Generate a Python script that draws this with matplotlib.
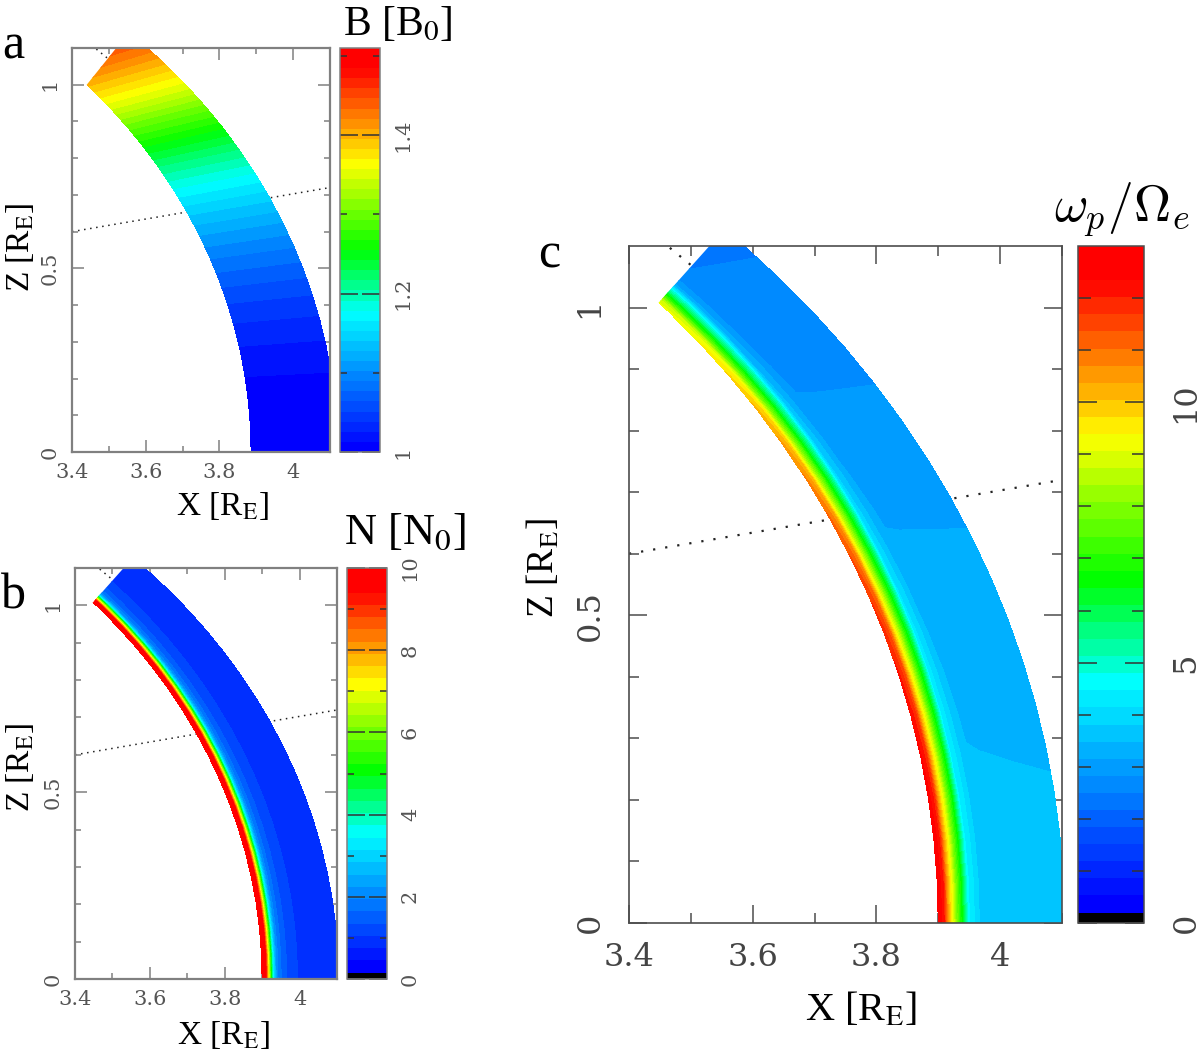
import numpy as np
import matplotlib
matplotlib.use("Agg")
import matplotlib.pyplot as plt
from matplotlib.colors import LinearSegmentedColormap
from matplotlib.patches import Polygon

W, H = 1200, 1055

plt.rcParams["font.family"] = ["Liberation Serif", "DejaVu Serif"]
plt.rcParams["mathtext.fontset"] = "stix"

# field line shape per unit of shell radius, one row per degree of latitude
row_x = [1.0, 0.99954, 0.99817, 0.99589, 0.9927, 0.98862, 0.98365, 0.97781, 0.97109, 0.96351,
         0.95511, 0.94589, 0.93587, 0.92507, 0.9135, 0.90122, 0.88822, 0.87455, 0.86024, 0.8453]
row_z = [0.0, 0.01745, 0.03486, 0.0522, 0.06942, 0.0865, 0.10339, 0.12006, 0.13648, 0.1526,
         0.16841, 0.18386, 0.19892, 0.21357, 0.22776, 0.24148, 0.2547, 0.26738, 0.27951, 0.29106]

# inner and outer shell of the band in each panel
shell_a = (3.886, 4.12)
shell_bc = (3.90, 4.104)

# B along the band, one value per row
b_rows = [1.0, 1.0014, 1.0055, 1.0124, 1.0221, 1.0348, 1.0504, 1.069, 1.0908, 1.116,
          1.1447, 1.1771, 1.2135, 1.2541, 1.2994, 1.3491, 1.39, 1.43, 1.46, 1.47]

# across the band at the equator: position between the shells, N and wp/Oe
col_frac = [0, 0.024, 0.048, 0.071, 0.095, 0.119, 0.143, 0.167, 0.19, 0.238, 0.333, 0.38, 0.476, 0.714, 1]
n_cols = [9.98, 9.95, 9.6, 8, 6.5, 5, 3.5, 2.7, 2.1, 1.7, 1.3, 1.25, 1.02, 0.9, 0.8]
wp_cols = [12.7, 12.4, 12, 10.8, 9.8, 9, 8, 7.2, 6.5, 4.55, 3.75, 3.57, 3.56, 3.55, 3.54]

# dotted guide lines
lat_line_x = [3.4, 4.1]
lat_line_z = [0.6, 0.72]
cap_line_x = [3.466, 3.505]
cap_line_z = [1.097, 1.065]

x_ticks = [3.4, 3.6, 3.8, 4.0]
x_labels = ["3.4", "3.6", "3.8", "4"]
x_minor = [3.5, 3.7, 3.9, 4.1]
z_ticks = [0, 0.5, 1]
z_labels = ["0", "0.5", "1"]
z_minor = [0.1, 0.2, 0.3, 0.4, 0.6, 0.7, 0.8, 0.9]

cmap = LinearSegmentedColormap.from_list(
    "bands",
    [(0, (0, 0, 1)), (0.34, (0, 1, 1)), (0.5, (0, 1, 0)), (0.72, (1, 1, 0)), (0.96, (1, 0, 0)), (1, (1, 0, 0))],
)


def px_axes(fig, left, top, right, bottom):
    return fig.add_axes([left / W, 1 - bottom / H, (right - left) / W, (bottom - top) / H])


def px_text(fig, x, y, s, size, rotation=0, **kw):
    fig.text(x / W, 1 - y / H, s, fontsize=size, rotation=rotation, ha="center", va="center", **kw)


def band_levels(vmin, vmax, count, black):
    # black is the width of the black bottom band, 0 when the colour bar has none
    if black:
        levels = np.concatenate([[vmin], np.linspace(vmin + black, vmax, count + 1)])
        colors = ["black"] + [cmap(i / (count - 1)) for i in range(count)]
    else:
        levels = np.linspace(vmin, vmax, count + 1)
        colors = [cmap(i / (count - 1)) for i in range(count)]
    return levels, colors


def draw_panel(fig, box, cbar_box, shell, field, vrange, count, black, cut, tick, line_color, dots):
    ax = px_axes(fig, *box)
    rows = np.array(row_x)[:, None]
    heights = np.array(row_z)[:, None]
    frac = np.array(col_frac)[None, :]
    radius = shell[0] + frac * (shell[1] - shell[0])
    X = radius * rows
    Z = radius * heights

    ax.plot(lat_line_x, lat_line_z, ls=dots[1], color="#222222", lw=dots[0], zorder=1)
    ax.plot(cap_line_x, cap_line_z, ls=dots[1], color="#222222", lw=dots[0], zorder=1)

    levels, colors = band_levels(vrange[0], vrange[1], count, black)
    cs = ax.contourf(X, Z, field, levels=levels, colors=colors, zorder=2)
    cs.set_clip_path(Polygon(cut, closed=True, transform=ax.transData))

    ax.set_xlim(3.4, 4.1)
    ax.set_ylim(0, 1.1)
    ax.set_xticks(x_ticks, labels=x_labels)
    ax.set_xticks(x_minor, minor=True)
    ax.set_yticks(z_ticks, labels=z_labels)
    ax.set_yticks(z_minor, minor=True)
    ax.tick_params(which="both", direction="in", top=True, right=True, color=line_color, width=1.1)
    ax.tick_params(which="major", length=tick["major"], labelsize=tick["size"], labelcolor=tick["color"])
    ax.tick_params(which="minor", length=tick["minor"])
    ax.tick_params(axis="x", which="major", pad=tick["xpad"])
    ax.tick_params(axis="y", which="major", pad=tick["ypad"])
    for lab in ax.get_xticklabels() + ax.get_yticklabels():
        lab.set_family("DejaVu Serif")
    for lab in ax.get_yticklabels():
        lab.set_rotation(90)
        lab.set_va("center")
    for sp in ax.spines.values():
        sp.set_color(line_color)
        sp.set_linewidth(tick["frame"])

    cax = px_axes(fig, *cbar_box)
    cb = fig.colorbar(cs, cax=cax, spacing="proportional")
    cb.outline.set_edgecolor(line_color)
    cb.outline.set_linewidth(1.1)
    return cb


def style_cbar(cb, major, labels, minor, tick):
    cb.set_ticks(major, labels=labels)
    cb.set_ticks(minor, minor=True)
    cax = cb.ax
    cax.tick_params(which="both", direction="in", left=True, right=True, color="#333333", width=1.1)
    cax.tick_params(which="major", length=tick["cmajor"], labelsize=tick["csize"],
                    labelcolor=tick["color"], pad=tick["cpad"])
    cax.tick_params(which="minor", length=tick["cminor"])
    for lab in cax.get_yticklabels():
        lab.set_family("DejaVu Serif")
        lab.set_rotation(90)
        lab.set_va("center")


fig = plt.figure(figsize=(W / 100, H / 100), dpi=100)

b_field = np.array(b_rows)[:, None] * np.ones((1, len(col_frac)))
n_field = np.ones((len(row_x), 1)) * np.array(n_cols)[None, :]
wp_field = np.array(wp_cols)[None, :] / np.array(b_rows)[:, None]

small = {"major": 8.5, "minor": 4.5, "size": 15, "color": "#555555", "xpad": 8, "ypad": 9,
         "frame": 1.6, "cmajor": 13, "cminor": 5, "csize": 15, "cpad": 10}
big = {"major": 13, "minor": 7.5, "size": 23, "color": "#444444", "xpad": 14, "ypad": 17,
       "frame": 1.2, "cmajor": 14, "cminor": 9, "csize": 23, "cpad": 19}

cut_a = [(3.3, 0.825), (3.52, 1.1), (4.1, 1.1), (4.1, 0), (3.3, 0)]
cut_bc = [(3.3, 0.842), (3.53, 1.1), (4.1, 1.1), (4.1, 0), (3.3, 0)]

dots_small = (1.1, (0, (1, 3)))
dots_big = (1.6, (0, (1, 4.5)))

cb_a = draw_panel(fig, (72, 48, 330, 452), (340, 48, 380, 452), shell_a, b_field,
                  (1.0, 1.51), 40, 0, cut_a, small, "#808080", dots_small)
style_cbar(cb_a, [1, 1.2, 1.4], ["1", "1.2", "1.4"], [1.1, 1.3, 1.5], small)

cb_b = draw_panel(fig, (75, 568, 337, 979), (347, 568, 387, 979), shell_bc, n_field,
                  (0, 10), 33, 0.156, cut_bc, small, "#808080", dots_small)
style_cbar(cb_b, [0, 2, 4, 6, 8, 10], ["0", "2", "4", "6", "8", "10"], [1, 3, 5, 7, 9], small)

cb_c = draw_panel(fig, (629, 246, 1062, 923), (1078, 246, 1144, 923), shell_bc, wp_field,
                  (0, 13), 39, 0.2, cut_bc, big, "#4d4d4d", dots_big)
style_cbar(cb_c, [0, 5, 10], ["0", "5", "10"], [1, 2, 3, 4, 6, 7, 8, 9, 11, 12], big)

rE = r"[R$_{\mathrm{E}}$]"
px_text(fig, 222, 506, "X " + rE, 24)
px_text(fig, 223, 1035, "X " + rE, 24)
px_text(fig, 861, 1010, "X " + rE, 29)
px_text(fig, 20, 247, "Z " + rE, 24, rotation=90)
px_text(fig, 20, 767, "Z " + rE, 24, rotation=90)
px_text(fig, 544, 568, "Z " + rE, 27, rotation=90)

px_text(fig, 398, 25, r"B [B$_{0}$]", 30)
px_text(fig, 405, 533, r"N [N$_{0}$]", 32)
px_text(fig, 1122, 210, r"$\omega_p/\Omega_e$", 37, math_fontfamily="cm")

px_text(fig, 13, 46, "a", 36)
px_text(fig, 13, 596, "b", 36)
px_text(fig, 549, 255, "c", 36)

fig.savefig("out.png", dpi=100)
